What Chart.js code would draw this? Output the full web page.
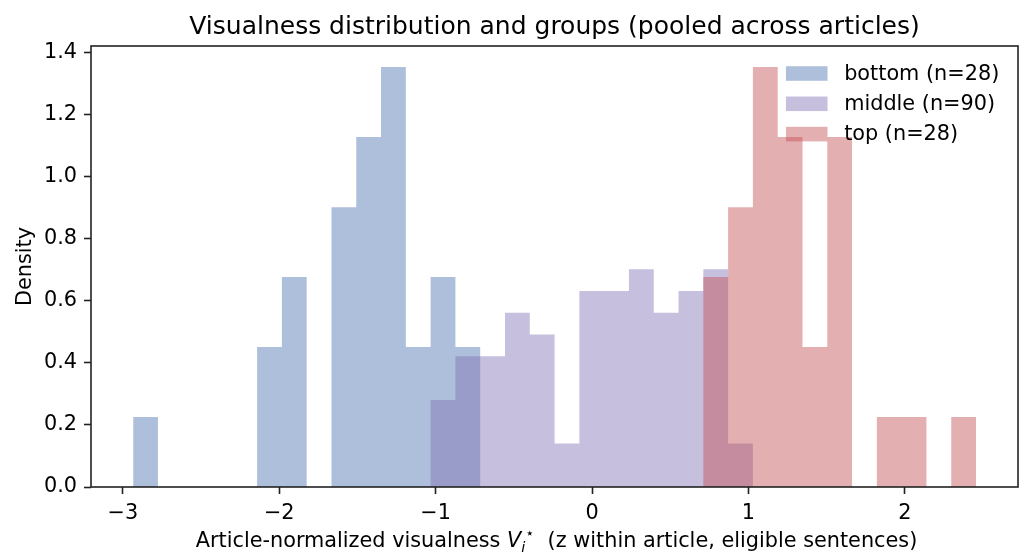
<!DOCTYPE html>
<html>
<head>
<meta charset="utf-8">
<script src="https://cdn.jsdelivr.net/npm/chart.js@4.4.1/dist/chart.umd.min.js"></script>
<style>
  html, body { margin: 0; padding: 0; background: #fff; }
  #wrap { width: 1034px; height: 557px; }
</style>
</head>
<body>
<div id="wrap"><canvas id="hist" width="1034" height="557"></canvas></div>
<script>
// histogram bins (shared by all three groups)
const binStart = -2.934;
const binWidth = 0.1585;

// densities per bin
const bottomDensity = [0.225, 0, 0, 0, 0, 0.451, 0.676, 0, 0.901, 1.127, 1.352, 0.451, 0.676, 0.451,
    0, 0, 0, 0, 0, 0, 0, 0, 0, 0, 0, 0, 0, 0, 0, 0, 0, 0, 0, 0];
const middleDensity = [0, 0, 0, 0, 0, 0, 0, 0, 0, 0, 0, 0,
    0.280, 0.421, 0.421, 0.561, 0.491, 0.140, 0.631, 0.631, 0.701, 0.561, 0.631, 0.701, 0.140,
    0, 0, 0, 0, 0, 0, 0, 0, 0];
const topDensity = [0, 0, 0, 0, 0, 0, 0, 0, 0, 0, 0, 0, 0, 0, 0, 0, 0, 0, 0, 0, 0, 0, 0,
    0.676, 0.901, 1.352, 1.127, 0.451, 1.127, 0, 0.225, 0.225, 0, 0.225];

const groupLabels = ['bottom (n=28)', 'middle (n=90)', 'top (n=28)'];
const xTicks = [-3, -2, -1, 0, 1, 2];
const yTicks = [0, 0.2, 0.4, 0.6, 0.8, 1.0, 1.2, 1.4];
const xRange = [-3.2034, 2.7234];
const yRange = [0, 1.42];
const titleText = 'Visualness distribution and groups (pooled across articles)';

const FONT = 'DejaVu Sans';
const FS = 20.8;
const INK = '#000';
const SPINE = '#222';
const colors = [
    'rgba(76, 114, 176, 0.45)',
    'rgba(129, 114, 179, 0.45)',
    'rgba(196, 78, 82, 0.45)'
];

// one point per bin edge; the step line holds each bin's height up to the next edge
const toSteps = arr => arr.concat([0]).map((y, i) => ({ x: binStart + binWidth * i, y: y }));

// spines, title, legend and the math x label
const decorPlugin = {
    id: 'decor',
    afterDraw(chart) {
        const ctx = chart.ctx;
        const a = chart.chartArea;
        const cx = (a.left + a.right) / 2;
        ctx.save();

        // 4 spines
        ctx.strokeStyle = SPINE;
        ctx.lineWidth = 1.6;
        ctx.strokeRect(a.left, a.top, a.right - a.left, a.bottom - a.top);

        // title, centred over the axes
        ctx.fillStyle = INK;
        ctx.font = '25px "' + FONT + '"';
        ctx.textAlign = 'center';
        ctx.textBaseline = 'alphabetic';
        ctx.fillText(titleText, cx, 33.5);

        // legend, upper right, no frame
        ctx.font = FS + 'px "' + FONT + '"';
        ctx.textAlign = 'left';
        const textW = Math.max(...groupLabels.map(t => ctx.measureText(t).width));
        const textX = a.right - 0.9 * FS - textW;
        const boxW = 2 * FS;
        const boxH = 0.7 * FS;
        const boxX = textX - 0.8 * FS - boxW;
        ctx.textBaseline = 'middle';
        groupLabels.forEach((t, i) => {
            const cy = a.top + 27.5 + i * 30.3;
            ctx.fillStyle = colors[i];
            ctx.fillRect(boxX, cy - boxH / 2, boxW, boxH);
            ctx.fillStyle = INK;
            ctx.fillText(t, textX, cy + 1);
        });

        // x label: Article-normalized visualness V_i^* (z within ...)
        const parts = [
            { t: 'Article-normalized visualness ', f: FS + 'px "' + FONT + '"', dy: 0 },
            { t: 'V', f: 'oblique ' + FS + 'px "' + FONT + '"', dy: 0 },
            { t: 'i', f: 'oblique ' + (FS * 0.7) + 'px "' + FONT + '"', dy: 5 },
            { t: '\u22C6', f: (FS * 0.7) + 'px "' + FONT + '"', dy: -9 },
            { t: '  (z within article, eligible sentences)', f: FS + 'px "' + FONT + '"', dy: 0 }
        ];
        let total = 0;
        parts.forEach(p => { ctx.font = p.f; p.w = ctx.measureText(p.t).width; total += p.w; });
        let x = cx + 2 - total / 2;
        ctx.textBaseline = 'alphabetic';
        ctx.fillStyle = INK;
        parts.forEach(p => {
            ctx.font = p.f;
            ctx.fillText(p.t, x, 547 + p.dy);
            x += p.w;
        });
        ctx.restore();
    }
};

const histSet = (i, arr, order) => ({
    label: groupLabels[i],
    data: toSteps(arr),
    stepped: 'before',
    fill: 'origin',
    backgroundColor: colors[i],
    borderWidth: 0,
    pointRadius: 0,
    order: order
});

new Chart(document.getElementById('hist').getContext('2d'), {
    type: 'line',
    data: {
        datasets: [
            histSet(0, bottomDensity, 3),
            histSet(1, middleDensity, 2),
            histSet(2, topDensity, 1)
        ]
    },
    options: {
        responsive: false,
        devicePixelRatio: 1,
        animation: false,
        layout: { padding: { left: 0, right: 16, top: 46, bottom: 0 } },
        plugins: {
            legend: { display: false },
            tooltip: { enabled: false },
            title: { display: false }
        },
        scales: {
            x: {
                type: 'linear',
                min: xRange[0],
                max: xRange[1],
                offset: false,
                grid: { offset: false, drawOnChartArea: false, drawTicks: true, tickLength: 7, tickWidth: 1.6, tickColor: SPINE },
                border: { display: false },
                afterBuildTicks: s => { s.ticks = xTicks.map(v => ({ value: v })); },
                afterFit: s => { s.height = 70; },
                ticks: {
                    color: INK,
                    padding: 7,
                    maxRotation: 0,
                    font: { family: FONT, size: FS },
                    callback: v => (v < 0 ? '\u2212' + Math.abs(v) : String(v))
                }
            },
            y: {
                min: yRange[0],
                max: yRange[1],
                grid: { drawOnChartArea: false, drawTicks: true, tickLength: 7, tickWidth: 1.6, tickColor: SPINE },
                border: { display: false },
                afterBuildTicks: s => { s.ticks = yTicks.map(v => ({ value: v })); },
                afterFit: s => { s.width = 91; },
                title: {
                    display: true,
                    text: 'Density',
                    color: INK,
                    font: { family: FONT, size: FS },
                    padding: { top: 13, bottom: 0 }
                },
                ticks: {
                    color: INK,
                    padding: 7,
                    font: { family: FONT, size: FS },
                    callback: v => v.toFixed(1)
                }
            }
        }
    },
    plugins: [decorPlugin]
});
</script>
</body>
</html>
